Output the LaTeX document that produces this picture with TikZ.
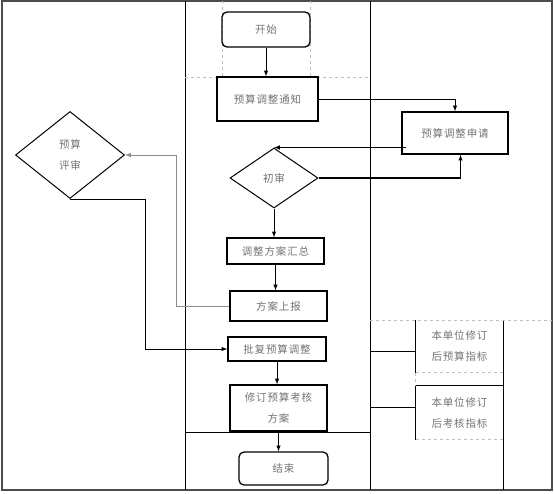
\documentclass[tikz,border=0pt]{standalone}
\usepackage{fontspec}
\newfontfamily\cjk[LetterSpace=8]{Noto Sans CJK SC}
\usetikzlibrary{arrows,positioning,shapes.geometric}

\begin{document}
\begin{tikzpicture}[x=1pt,y=-1pt,>=latex,line width=1pt,
  txt/.style={font=\cjk\fontsize{10.5}{21}\selectfont,text=black!55,align=center},
  box/.style={draw,txt,inner sep=0pt,line width=1.3pt},
  term/.style={box,rounded corners=5pt},
  check/.style={draw,txt,diamond,inner sep=0pt,line width=1pt},
  guide/.style={draw=black!25,dashed,line width=.6pt}]
\useasboundingbox (0,0) rectangle (554,493);
% lanes
\draw[draw=black!70,line width=1.5pt] (2,1) rectangle (552,490);
\draw (185,1) -- (185,490);
\draw (370,1) -- (370,490);
\draw (503,320) -- (503,490);
\draw (185,432) -- (370,432);
\draw[guide] (185,77) -- (370,77);
\draw[guide] (222,1) -- (222,77);
\draw[guide] (310,1) -- (310,77);
\draw[guide] (370,320) -- (552,320);
% nodes
\node[term,minimum width=88,minimum height=35] (start) at (266,29.5) {开始};
\node[box,minimum width=101,minimum height=44] (notice) at (267.5,99) {预算调整通知};
\node[box,minimum width=106,minimum height=42] (apply) at (455,133) {预算调整申请};
\node[check,minimum width=88,minimum height=60] (first) at (274,178) {初审};
\node[check,minimum width=109,minimum height=87] (evalrev) at (70,155) {预算\\评审};
\node[box,minimum width=97,minimum height=26] (summary) at (275.5,251) {调整方案汇总};
\node[box,minimum width=97,minimum height=30] (report) at (278.5,306) {方案上报};
\node[box,minimum width=98,minimum height=24] (approve) at (277,349) {批复预算调整};
\node[box,minimum width=97,minimum height=46] (revise) at (278.5,408) {修订预算考核\\方案};
\node[term,minimum width=89,minimum height=33] (finish) at (283.5,468.5) {结束};
\node[txt,minimum width=87,minimum height=52] (idxA) at (459.5,346) {本单位修订\\后预算指标};
\node[txt,minimum width=87,minimum height=53] (idxB) at (459.5,412.5) {本单位修订\\后考核指标};
% index boxes
\draw[line width=1.3pt] (idxA.north west) -- (idxA.south west);
\draw[guide] (idxA.south west) -- (idxA.south east);
\draw[line width=1.3pt] (idxB.south west) -- (idxB.north west) -- (idxB.north east);
\draw[guide] (idxB.south west) -- (idxB.south east);
\draw[guide] (idxA.south west) -- (idxB.north west);
\coordinate (laneA) at (370,351);
\coordinate (laneB) at (370,407);
\draw (laneA) -- (laneA -| idxA.west);
\draw (laneB) -- (laneB -| idxB.west);
% flow
\draw[->] (start.south) -- (start.south |- notice.north);
\draw[->] (notice.east) -| (apply.north);
\draw[->] ([xshift=5pt]apply.west |- first.north) -- (first.north);
\draw[line width=2pt] (first.east) -- ++(142,0) coordinate (turn);
\draw[->] (turn) -- (turn |- apply.south);
\draw[->] (first.south) -- (first.south |- summary.north);
\draw[->] (summary.south) -- (summary.south |- report.north);
\draw[->,draw=black!45] (report.west) -- ++(-53,0) |- (evalrev.east);
\draw[->] (evalrev.south) -- ++(75,0) |- (approve.west);
\draw[->] (approve.south) -- (approve.south |- revise.north);
\draw[->] (revise.south) -- (revise.south |- finish.north);
\end{tikzpicture}
\end{document}
